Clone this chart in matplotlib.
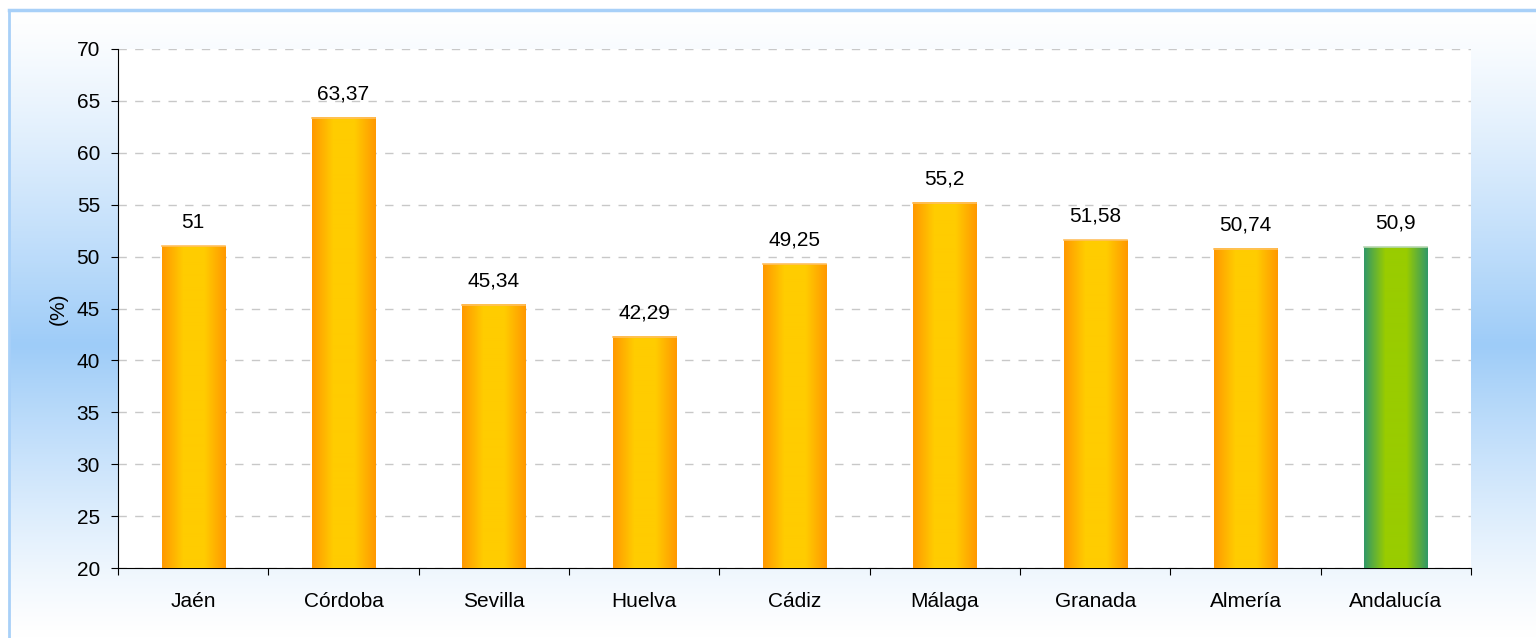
import numpy as np
import matplotlib
matplotlib.use('Agg')
import matplotlib.pyplot as plt
from matplotlib.colors import LinearSegmentedColormap

provinces = ['Jaén', 'Córdoba', 'Sevilla', 'Huelva', 'Cádiz', 'Málaga',
             'Granada', 'Almería', 'Andalucía']
values = [51, 63.37, 45.34, 42.29, 49.25, 55.2, 51.58, 50.74, 50.9]
labels = ['51', '63,37', '45,34', '42,29', '49,25', '55,2', '51,58', '50,74', '50,9']
y_ticks = [20, 25, 30, 35, 40, 45, 50, 55, 60, 65, 70]

W, H = 1536, 638
FS = 15
fig = plt.figure(figsize=(W / 100, H / 100), dpi=100)
fig.patch.set_facecolor('white')

# background panel with vertical gradient (white -> light blue -> white)
bg = fig.add_axes([9 / W, 0, 1 - 9 / W, 1 - 10 / H])
bg.set_axis_off()
yy = np.linspace(0, 1, 256)
mid = 1 - (345 - 10) / (H - 10)
t = np.where(yy < mid, yy / mid, (1 - yy) / (1 - mid))
t = np.clip(t, 0, 1) ** 1.2
top = np.array([1.0, 1.0, 1.0])
blue = np.array([0x9e, 0xcc, 0xf8]) / 255
grad = top[None, :] * (1 - t[:, None]) + blue[None, :] * t[:, None]
bg.imshow(grad[:, None, :], aspect='auto', origin='lower', extent=[0, 1, 0, 1])
bg.set_xlim(0, 1)
bg.set_ylim(0, 1)
fig.add_artist(plt.Line2D([9 / W, 1], [1 - 10 / H, 1 - 10 / H], color='#a8d0f8', lw=2.5))
fig.add_artist(plt.Line2D([9 / W, 9 / W], [0, 1 - 10 / H], color='#a8d0f8', lw=2))

ax = fig.add_axes([118 / W, 1 - 568 / H, (1471 - 118) / W, (568 - 49) / H])
ax.set_facecolor('white')
ax.set_zorder(2)

n = len(provinces)
x = np.arange(n)
width = 0.42
orange = LinearSegmentedColormap.from_list('o', ['#ff9900', '#ffcc00', '#ffcc00', '#ff9900'])
green = LinearSegmentedColormap.from_list('g', ['#339966', '#99cc00', '#99cc00', '#339966'])
gx = np.linspace(0, 1, 64)[None, :]

for i, v in enumerate(values):
    cmap = green if i == n - 1 else orange
    ax.imshow(gx, cmap=cmap, aspect='auto', extent=[i - width / 2, i + width / 2, 20, v],
              zorder=3, interpolation='bilinear')
    edge = '#b8d8b0' if i == n - 1 else '#ffc060'
    ax.plot([i - width / 2, i + width / 2], [v, v], color=edge, lw=1.2, zorder=4)
    ax.text(i, v + 1.4, labels[i], ha='center', va='bottom', fontsize=FS,
            family='Liberation Sans', zorder=5)

ax.set_xlim(-0.5, n - 0.5)
ax.set_ylim(20, 70)
ax.set_yticks(y_ticks)
ax.set_yticklabels([str(v) for v in y_ticks], fontsize=FS, family='Liberation Sans')
ax.set_xticks(np.arange(-0.5, n, 1))
ax.set_xticklabels([])
ax.set_xticks(x, minor=True)
ax.set_xticklabels(provinces, minor=True, fontsize=FS, family='Liberation Sans')
ax.tick_params(axis='x', which='minor', length=0, pad=17)
ax.tick_params(axis='x', which='major', length=5, direction='out', color='black')
ax.tick_params(axis='y', length=5, direction='out', pad=8)
ax.set_ylabel('(%)', fontsize=FS, family='Liberation Sans', labelpad=6)

ax.yaxis.grid(True, linestyle=(0, (6, 6)), color='#c8c8c8', lw=1)
ax.set_axisbelow(True)
for s in ['top', 'right']:
    ax.spines[s].set_visible(False)
ax.spines['left'].set_color('black')
ax.spines['bottom'].set_color('black')

fig.savefig('out.png', dpi=100)
